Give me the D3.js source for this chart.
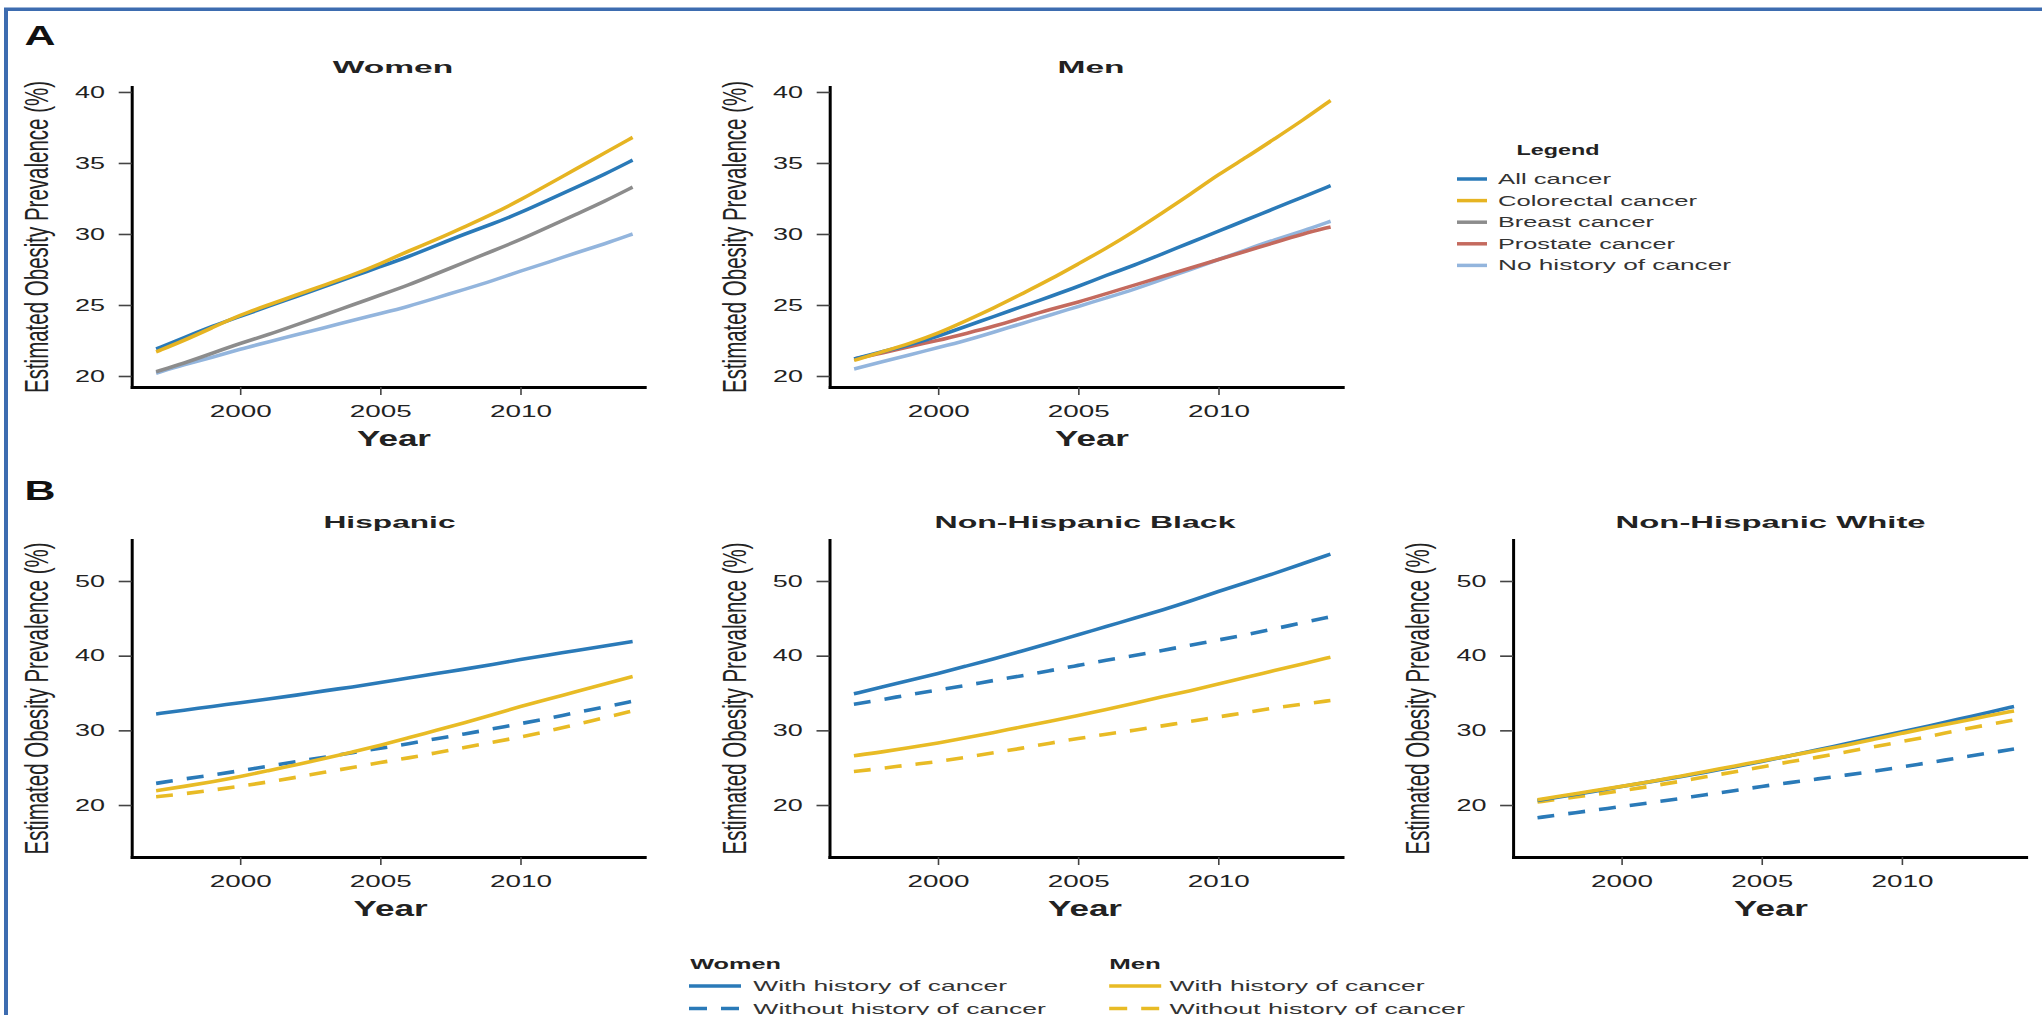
<!DOCTYPE html>
<html><head><meta charset="utf-8">
<script src="https://cdn.jsdelivr.net/npm/d3@7"></script>
<style>body{margin:0;background:#fff;} svg{display:block;} text{font-family:"Liberation Sans",Arial,sans-serif;}</style>
</head><body><svg id="c" width="2042" height="1015"></svg>
<script>
// ---------- DATA ----------
const years = [1997,1998,1999,2000,2001,2002,2003,2004,2005,2006,2007,2008,2009,2010,2011,2012,2013,2014];
const xTicks = [2000, 2005, 2010];
const yTicksA = [20, 25, 30, 35, 40];
const yTicksB = [20, 30, 40, 50];

// Panel A - Women
const womenAll        = [21.9,22.7,23.5,24.2,24.9,25.6,26.3,27.0,27.7,28.4,29.2,30.0,30.7,31.5,32.4,33.3,34.2,35.2];
const womenColorectal = [21.7,22.5,23.4,24.3,25.0,25.7,26.4,27.1,27.9,28.8,29.6,30.5,31.4,32.4,33.5,34.6,35.7,36.8];
const womenBreast     = [20.3,20.9,21.6,22.3,22.9,23.6,24.3,25.0,25.7,26.4,27.2,28.0,28.8,29.6,30.5,31.4,32.3,33.3];
const womenNoHistory  = [20.2,20.8,21.3,21.9,22.4,22.9,23.4,23.9,24.4,24.9,25.5,26.1,26.7,27.4,28.0,28.7,29.3,30.0];
// Panel A - Men
const menAll          = [21.2,21.7,22.2,22.8,23.5,24.2,24.9,25.6,26.3,27.1,27.8,28.6,29.4,30.2,31.0,31.8,32.6,33.4];
const menColorectal   = [21.1,21.7,22.3,23.0,23.9,24.8,25.8,26.8,27.9,29.0,30.2,31.5,32.8,34.2,35.4,36.7,38.0,39.4];
const menProstate     = [21.2,21.6,22.1,22.5,23.0,23.5,24.1,24.7,25.2,25.8,26.4,27.0,27.6,28.2,28.8,29.4,30.0,30.5];
const menNoHistory    = [20.5,21.0,21.5,22.0,22.5,23.1,23.7,24.3,24.9,25.5,26.1,26.8,27.5,28.2,28.9,29.6,30.2,30.9];
// Panel B - Hispanic
const hispWomenWith    = [32.2,32.7,33.2,33.7,34.2,34.7,35.3,35.8,36.4,37.0,37.6,38.2,38.8,39.5,40.1,40.7,41.3,41.9];
const hispWomenWithout = [22.9,23.5,24.0,24.6,25.2,25.8,26.4,27.0,27.6,28.2,28.9,29.5,30.2,30.9,31.6,32.4,33.1,33.9];
const hispMenWith      = [21.9,22.5,23.1,23.8,24.6,25.4,26.2,27.1,28.0,29.0,30.0,31.0,32.1,33.2,34.2,35.2,36.2,37.2];
const hispMenWithout   = [21.1,21.5,22.0,22.5,23.1,23.7,24.4,25.0,25.7,26.3,27.0,27.7,28.4,29.1,29.9,30.8,31.7,32.6];
// Panel B - Non-Hispanic Black
const nhbWomenWith    = [34.9,35.8,36.7,37.6,38.6,39.6,40.6,41.7,42.8,43.9,45.0,46.1,47.3,48.6,49.8,51.0,52.3,53.6];
const nhbWomenWithout = [33.5,34.1,34.8,35.4,36.0,36.7,37.3,38.0,38.7,39.4,40.0,40.7,41.4,42.1,42.8,43.6,44.4,45.2];
const nhbMenWith      = [26.6,27.1,27.7,28.3,29.0,29.7,30.5,31.2,32.0,32.8,33.6,34.5,35.3,36.2,37.1,38.0,38.9,39.8];
const nhbMenWithout   = [24.5,24.9,25.4,25.8,26.4,27.0,27.6,28.3,28.9,29.5,30.0,30.6,31.2,31.8,32.4,33.0,33.5,34.0];
// Panel B - Non-Hispanic White
const nhwWomenWith    = [20.6,21.2,21.8,22.5,23.1,23.7,24.4,25.1,25.8,26.6,27.4,28.2,29.0,29.8,30.6,31.5,32.3,33.2];
const nhwWomenWithout = [18.3,18.8,19.3,19.8,20.3,20.8,21.4,21.9,22.5,23.0,23.5,24.0,24.5,25.1,25.7,26.3,26.9,27.5];
const nhwMenWith      = [20.7,21.3,21.9,22.5,23.1,23.8,24.5,25.2,25.9,26.6,27.3,28.0,28.8,29.6,30.4,31.1,31.9,32.6];
const nhwMenWithout   = [20.4,20.9,21.4,21.9,22.5,23.1,23.8,24.4,25.1,25.8,26.4,27.1,27.8,28.5,29.2,30.0,30.7,31.4];

const legendA = ["All cancer", "Colorectal cancer", "Breast cancer", "Prostate cancer", "No history of cancer"];

// ---------- STYLE ----------
const C = {all:"#2a7ab8", colo:"#e6b422", breast:"#8c8c8c", prost:"#c46a5e", nohist:"#93b5dd",
           blue:"#2a7ab8", yellow:"#e8bb25"};
const DASH = "17,14";

const svg = d3.select('#c');
svg.append('rect').attr('width',2042).attr('height',1015).attr('fill','#fff');
svg.append('rect').attr('x',4).attr('y',8).attr('width',4).attr('height',1007).attr('fill','#3d6cb0');
svg.append('rect').attr('x',4).attr('y',7.5).attr('width',2038).attr('height',3.5).attr('fill','#3d6cb0');

function txt(x, y, s, o) {
  const t = svg.append('text').attr('x', x).attr('y', y).text(s)
    .attr('font-size', o.size).attr('font-weight', o.weight || 'normal')
    .attr('fill', o.fill || '#222').attr('text-anchor', o.anchor || 'start');
  if (o.len) t.attr('textLength', o.len).attr('lengthAdjust', 'spacingAndGlyphs');
  return t;
}

const PW = 513, PXY = 28.03;
function panel(cfg) {
  const g = svg.append('g');
  const x0 = 2000 - 108.5 / PXY;
  const x = d3.scaleLinear().domain([x0, x0 + PW / PXY]).range([cfg.ax, cfg.ax + PW]);
  const y = d3.scaleLinear().domain(cfg.yDomain).range([cfg.bottom, cfg.top]);
  const line = d3.line().x((d, i) => x(years[i])).y(d => y(d)).curve(d3.curveBasis);

  cfg.series.forEach(s => {
    g.append('path').datum(s.v).attr('d', line).attr('fill', 'none')
      .attr('stroke', s.c).attr('stroke-width', 3.6)
      .attr('stroke-dasharray', s.dash || null);
  });

  const ya = g.append('g').attr('transform', `translate(${cfg.ax},0)`)
    .call(d3.axisLeft(y).tickValues(cfg.yTicks).tickSize(13).tickSizeOuter(0).tickPadding(13.7));
  const xa = g.append('g').attr('transform', `translate(0,${cfg.bottom})`)
    .call(d3.axisBottom(x).tickValues(xTicks).tickFormat(d3.format('d')).tickSize(8).tickSizeOuter(0));
  [ya, xa].forEach(a => {
    a.attr('font-size', null).attr('font-family', null);
    a.select('.domain').attr('stroke', '#000').attr('stroke-width', 3).attr('stroke-linecap', 'square');
    a.selectAll('.tick line').attr('stroke', '#444').attr('stroke-width', 1.6);
    a.selectAll('text').attr('fill', '#222').attr('font-size', 16.3)
      .attr('textLength', d => String(d).length === 4 ? 62 : 30)
      .attr('lengthAdjust', 'spacingAndGlyphs');
  });
  xa.selectAll('text').attr('dy', null).attr('y', 29.5);

  // titles
  txt(cfg.tx, cfg.top - (cfg.top === 87 ? 14 : 11.7), cfg.title, {size: 17, weight: 'bold', len: cfg.tlen, anchor: 'middle'});
  txt(cfg.yx, cfg.bottom + 59, 'Year', {size: 22, weight: 'bold', len: 74, anchor: 'middle'});
  // y label
  svg.append('text')
    .attr('transform', `translate(${cfg.ax - 93.7},${(cfg.top + cfg.bottom) / 2}) scale(1.59,1) rotate(-90)`)
    .attr('text-anchor', 'middle').attr('dy', '0.3em').attr('font-size', 21).attr('fill', '#222')
    .attr('textLength', 312).attr('lengthAdjust', 'spacingAndGlyphs')
    .text('Estimated Obesity Prevalence (%)');
}

const yDomA = [19.225, 40.35], yDomB = [13.04, 55.49];

panel({ax: 131.7, top: 87, bottom: 387, yDomain: yDomA, yTicks: yTicksA, title: 'Women', tx: 393, tlen: 120.5, yx: 394,
  series: [{v: womenNoHistory, c: C.nohist}, {v: womenBreast, c: C.breast}, {v: womenAll, c: C.all}, {v: womenColorectal, c: C.colo}]});
panel({ax: 829.7, top: 87, bottom: 387, yDomain: yDomA, yTicks: yTicksA, title: 'Men', tx: 1091, tlen: 67, yx: 1092,
  series: [{v: menNoHistory, c: C.nohist}, {v: menProstate, c: C.prost}, {v: menAll, c: C.all}, {v: menColorectal, c: C.colo}]});

function bSeries(ww, wo, mw, mo) {
  return [{v: wo, c: C.blue, dash: DASH}, {v: mo, c: C.yellow, dash: DASH}, {v: ww, c: C.blue}, {v: mw, c: C.yellow}];
}
panel({ax: 131.7, top: 540, bottom: 857, yDomain: yDomB, yTicks: yTicksB, title: 'Hispanic', tx: 389.5, tlen: 132, yx: 390.6,
  series: bSeries(hispWomenWith, hispWomenWithout, hispMenWith, hispMenWithout)});
panel({ax: 829.5, top: 540, bottom: 857, yDomain: yDomB, yTicks: yTicksB, title: 'Non-Hispanic Black', tx: 1085, tlen: 301, yx: 1085,
  series: bSeries(nhbWomenWith, nhbWomenWithout, nhbMenWith, nhbMenWithout)});
panel({ax: 1513.1, top: 540, bottom: 857, yDomain: yDomB, yTicks: yTicksB, title: 'Non-Hispanic White', tx: 1770.6, tlen: 310, yx: 1771,
  series: bSeries(nhwWomenWith, nhwWomenWithout, nhwMenWith, nhwMenWithout)});

// panel letters
txt(24.5, 45, 'A', {size: 28, weight: 'bold', len: 31, fill: '#111'});
txt(24.5, 500, 'B', {size: 28, weight: 'bold', len: 31, fill: '#111'});

// Legend A
txt(1558, 155, 'Legend', {size: 15, weight: 'bold', len: 83, anchor: 'middle'});
const legColors = [C.all, C.colo, C.breast, C.prost, C.nohist];
const legLens = [113, 199, 156, 177, 233];
legendA.forEach((s, i) => {
  const cy = 179 + i * 21.6;
  svg.append('line').attr('x1', 1457).attr('x2', 1487).attr('y1', cy).attr('y2', cy)
    .attr('stroke', legColors[i]).attr('stroke-width', 3.5);
  txt(1498, cy + 5, s, {size: 14, len: legLens[i], fill: '#333'});
});

// Legend B
const legB = [
  {head: 'Women', hx: 690.2, hlen: 90.7, sx: 689, tx: 753.3, c: C.blue, lens: [253.7, 292.7]},
  {head: 'Men', hx: 1109.2, hlen: 51.7, sx: 1109.2, tx: 1169.5, c: C.yellow, lens: [255, 295.5]}
];
const legBLabels = ['With history of cancer', 'Without history of cancer'];
legB.forEach(L => {
  txt(L.hx, 968.5, L.head, {size: 15, weight: 'bold', len: L.hlen});
  legBLabels.forEach((s, i) => {
    const cy = 986 + i * 22.5;
    svg.append('line').attr('x1', L.sx).attr('x2', L.sx + 52).attr('y1', cy).attr('y2', cy)
      .attr('stroke', L.c).attr('stroke-width', 3.5).attr('stroke-dasharray', i ? '18,14' : null);
    txt(L.tx, cy + 5, s, {size: 15, len: L.lens[i], fill: '#333'});
  });
});
</script></body></html>
